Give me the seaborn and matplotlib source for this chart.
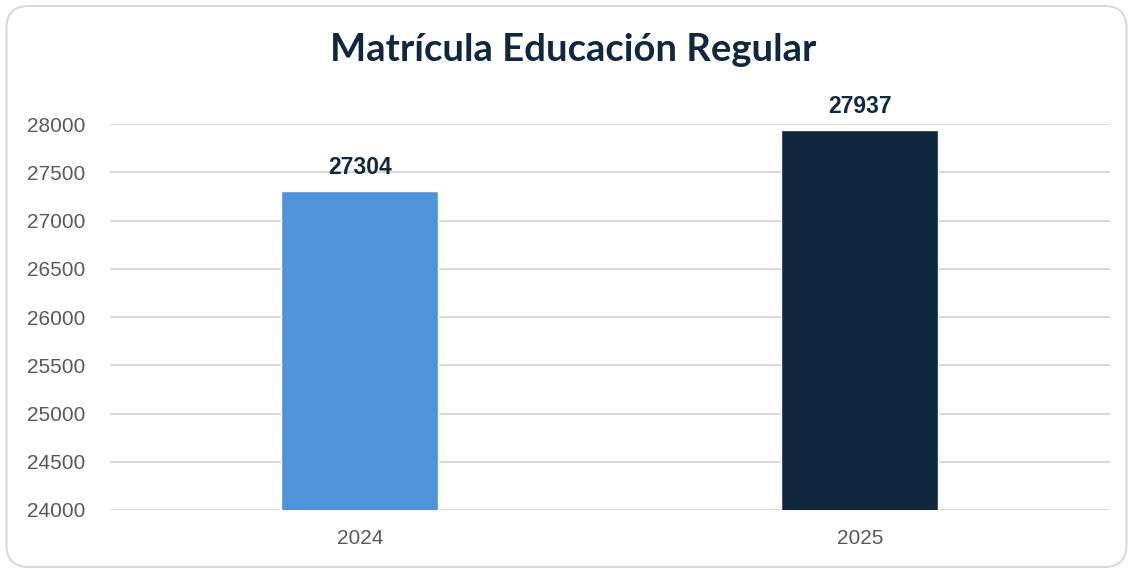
# libraries
import seaborn as sns
import matplotlib.pyplot as plt
import pandas as pd
from matplotlib.patches import FancyBboxPatch

# data
years = ["2024", "2025"]
enrollment = [27304, 27937]
bar_colors = ["#4f94d9", "#10283f"]

df = pd.DataFrame({"year": years, "matricula": enrollment})

sns.set_style("white")
plt.rcParams['font.family'] = ['Liberation Sans', 'DejaVu Sans']

fig = plt.figure(figsize=(11.3, 5.69), dpi=100)
ax = fig.add_axes([0.0973, 0.1037, 0.885, 0.678])

sns.barplot(data=df, x="year", y="matricula", hue="year", palette=bar_colors,
            width=0.314, legend=False, ax=ax, zorder=3, saturation=1)

ax.set_ylim(24000, 28000)
ax.set_xlim(-0.5, 1.5)
ax.set_yticks(range(24000, 28001, 500))
ax.yaxis.grid(True, color="#d9d9d9", linewidth=1.5, zorder=0)
ax.set_axisbelow(True)
sns.despine(ax=ax, left=True, bottom=True)
ax.tick_params(axis="both", length=0, labelsize=15, labelcolor="#595959")
ax.tick_params(axis="y", pad=18)
ax.tick_params(axis="x", pad=14)
ax.set_xlabel("")
ax.set_ylabel("")

# value labels
for i, v in enumerate(enrollment):
    ax.annotate(str(v), (i, v), xytext=(0, 9), textcoords="offset points",
                ha="center", va="bottom", fontsize=16.5, fontweight="bold",
                color="#10283f", annotation_clip=False)

fig.text(0.507, 0.912, "Matrícula Educación Regular", ha="center", va="center",
         fontsize=27.5, fontweight="bold", color="#10283f",
         family=["Lato", "DejaVu Sans"])

# rounded border (inches)
border = FancyBboxPatch((0.065, 0.02), 11.2, 5.61,
                        boxstyle="round,pad=0,rounding_size=0.22",
                        transform=fig.dpi_scale_trans, facecolor="none",
                        edgecolor="#d9d9d9", linewidth=1.5)
fig.patches.append(border)

fig.savefig("out.png", dpi=100)
